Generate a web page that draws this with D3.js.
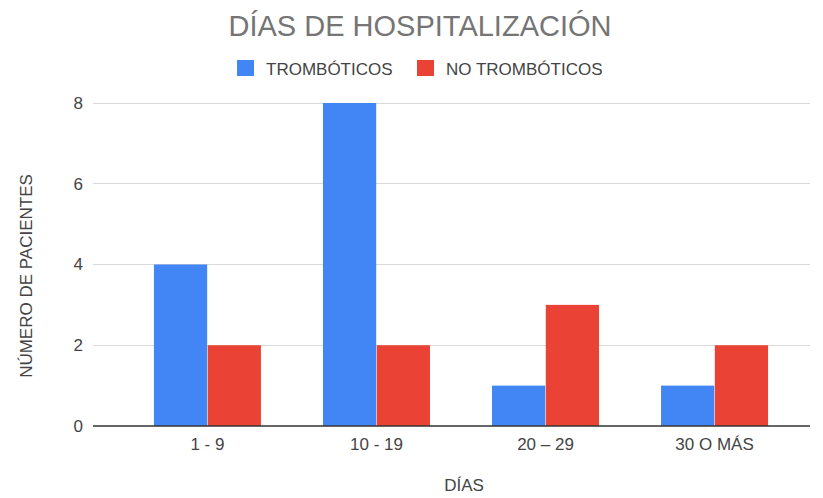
<!DOCTYPE html>
<html><head><meta charset="utf-8">
<script src="https://cdn.jsdelivr.net/npm/d3@7"></script>
<style>body{margin:0;background:#fff;} svg{display:block;font-family:Arial,"Liberation Sans",sans-serif;}</style>
</head><body><svg id="c" width="823" height="498"></svg>
<script>
const categories = ["1 - 9", "10 - 19", "20 – 29", "30 O MÁS"];
const seriesNames = ["TROMBÓTICOS", "NO TROMBÓTICOS"];
const trombóticos = [4, 8, 1, 1];
const noTrombóticos = [2, 2, 3, 2];
const yTicks = [0, 2, 4, 6, 8];
const colors = ["#4285f4", "#ea4335"];

const svg = d3.select("#c");
const plotL = 93, plotR = 810, plotT = 103, plotB = 426;
const fs = 17;
const x = d3.scaleBand().domain(categories).range([123, 799]).paddingInner(0.367).paddingOuter(0.183);
const xs = d3.scaleBand().domain(seriesNames).range([0, x.bandwidth()]).paddingInner(0.01);
const y = d3.scaleLinear().domain([0, 8]).range([plotB, plotT]);

// grid
svg.append("g").selectAll("line").data(yTicks.filter(d=>d>0)).join("line")
  .attr("x1", plotL).attr("x2", plotR).attr("y1", d=>y(d)).attr("y2", d=>y(d))
  .attr("stroke", "#d9d9d9").attr("stroke-width", 1).attr("shape-rendering","crispEdges");

// y axis labels
const yAxis = d3.axisLeft(y).tickValues(yTicks).tickSize(0).tickPadding(10);
const ga = svg.append("g").attr("transform", `translate(${plotL},0)`).call(yAxis);
ga.select(".domain").remove();
ga.selectAll("text").attr("font-size", fs).attr("fill", "#444").attr("font-family","Arial,'Liberation Sans',sans-serif");

// bars
const data = categories.map((c,i)=>({c, vals:[trombóticos[i], noTrombóticos[i]]}));
const g = svg.append("g").selectAll("g").data(data).join("g").attr("transform", d=>`translate(${x(d.c)},0)`);
g.selectAll("rect").data(d=>d.vals.map((v,j)=>({v, s:seriesNames[j], j}))).join("rect")
  .attr("x", d=>xs(d.s)).attr("width", xs.bandwidth())
  .attr("y", d=>y(d.v)).attr("height", d=>y(0)-y(d.v))
  .attr("fill", d=>colors[d.j]);

// baseline
svg.append("line").attr("x1", plotL).attr("x2", plotR).attr("y1", plotB).attr("y2", plotB)
  .attr("stroke", "#333").attr("stroke-width", 1.5);

// x axis labels
const xAxis = d3.axisBottom(x).tickSize(0).tickPadding(12);
const gx = svg.append("g").attr("transform", `translate(0,${plotB})`).call(xAxis);
gx.select(".domain").remove();
gx.selectAll("text").attr("font-size", fs).attr("fill", "#444").attr("font-family","Arial,'Liberation Sans',sans-serif");

// titles
svg.append("text").attr("x", 420).attr("y", 36).attr("text-anchor","middle")
  .attr("font-size", 29).attr("fill", "#757575").text("DÍAS DE HOSPITALIZACIÓN");
svg.append("text").attr("x", 464).attr("y", 491).attr("text-anchor","middle")
  .attr("font-size", fs).attr("fill", "#444").text("DÍAS");
svg.append("text").attr("transform", "translate(32,276) rotate(-90)").attr("text-anchor","middle")
  .attr("font-size", fs).attr("fill", "#444").text("NÚMERO DE PACIENTES");

// legend
const legX = [237, 417];
const lg = svg.append("g").selectAll("g").data(seriesNames).join("g")
  .attr("transform", (d,i)=>`translate(${legX[i]},60)`);
lg.append("rect").attr("width", 17).attr("height", 16).attr("fill", (d,i)=>colors[i]);
lg.append("text").attr("x", 29).attr("y", 14.5).attr("font-size", fs).attr("fill", "#444").text(d=>d);
</script></body></html>
